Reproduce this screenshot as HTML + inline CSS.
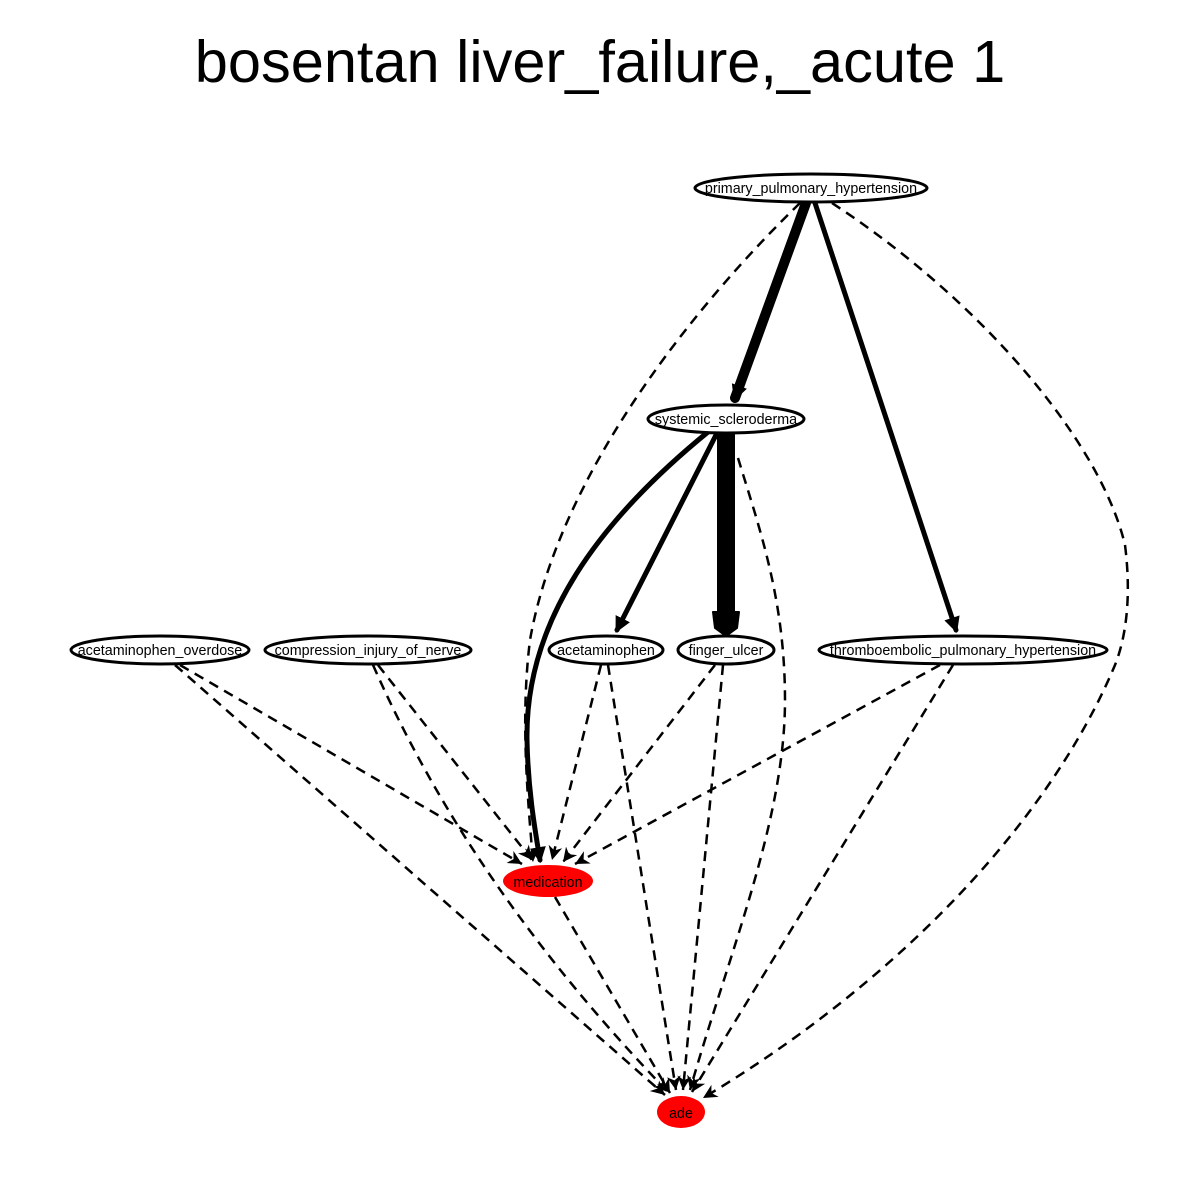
<!DOCTYPE html>
<html><head><style>body{margin:0;background:#fff}svg{display:block}</style></head><body>
<svg width="1200" height="1200" viewBox="0 0 1200 1200" xmlns="http://www.w3.org/2000/svg" font-family="Liberation Sans, sans-serif">
<defs>
<marker id="a" markerUnits="userSpaceOnUse" markerWidth="14" markerHeight="14" refX="10" refY="5" orient="auto" viewBox="0 0 10 10"><path d="M0,0 L10,5 L0,10 L3,5 z" fill="#000"/></marker>
<marker id="b" markerUnits="userSpaceOnUse" markerWidth="16" markerHeight="16" refX="8" refY="5" orient="auto" viewBox="0 0 10 10"><path d="M0,0 L10,5 L0,10 z" fill="#000"/></marker>
</defs>
<text x="600" y="82" font-size="59.5" text-anchor="middle">bosentan liver_failure,_acute 1</text>
<g fill="none" stroke="#000" stroke-width="2.5" stroke-dasharray="10,7" marker-end="url(#a)">
<path d="M800,203 C700,300 560,470 530,640 C520,720 528,800 533,862"/>
<path d="M832,203 C980,300 1100,440 1125,545 C1132,600 1125,640 1115,665 C1050,820 900,980 703,1098"/>
<path d="M738,458 C760,530 785,600 785,700 C785,820 730,950 690,1090"/>
<path d="M180,665 L522,864"/>
<path d="M175,665 L665,1095"/>
<path d="M378,665 L532,860"/>
<path d="M373,665 C450,840 560,980 668,1092"/>
<path d="M601,665 L552,860"/>
<path d="M608,665 L676,1090"/>
<path d="M715,665 L563,862"/>
<path d="M723,665 L683,1090"/>
<path d="M940,665 L575,864"/>
<path d="M953,665 L692,1092"/>
<path d="M555,897 L670,1093"/>
</g>
<g fill="none" stroke="#000" stroke-linecap="round" marker-end="url(#b)">
<path d="M806,203 L735,398" stroke-width="10"/>
<path d="M815,203 L956,630" stroke-width="5"/>
<path d="M708,432 C600,520 525,620 527,740 C528,790 535,830 540,860" stroke-width="5"/>
<path d="M716,435 L617,630" stroke-width="5"/>
</g>
<path d="M726,432 L726,615" stroke="#000" stroke-width="18" stroke-linecap="round" fill="none"/>
<path d="M713,612 L739,612 L737,628 L726,636 L715,628 z" fill="#000" stroke="#000" stroke-width="2" stroke-linejoin="round"/>
<g stroke="#000" stroke-width="3" fill="#fff">
<ellipse cx="811" cy="188" rx="116" ry="14"/>
<ellipse cx="726" cy="419" rx="78" ry="14"/>
<ellipse cx="160" cy="650" rx="89" ry="14"/>
<ellipse cx="368" cy="650" rx="103" ry="14"/>
<ellipse cx="606" cy="650" rx="57" ry="14"/>
<ellipse cx="726" cy="650" rx="48" ry="14"/>
<ellipse cx="963" cy="650" rx="144" ry="14"/>
</g>
<ellipse cx="548" cy="881" rx="45" ry="16" fill="#f00"/>
<ellipse cx="681" cy="1112" rx="24" ry="16" fill="#f00"/>
<g font-size="14.3" text-anchor="middle">
<text x="811" y="193">primary_pulmonary_hypertension</text>
<text x="726" y="424">systemic_scleroderma</text>
<text x="160" y="655">acetaminophen_overdose</text>
<text x="368" y="655">compression_injury_of_nerve</text>
<text x="606" y="655">acetaminophen</text>
<text x="726" y="655">finger_ulcer</text>
<text x="963" y="655">thromboembolic_pulmonary_hypertension</text>
<text x="548" y="887">medication</text>
<text x="681" y="1118">ade</text>
</g>
</svg>
</body></html>
